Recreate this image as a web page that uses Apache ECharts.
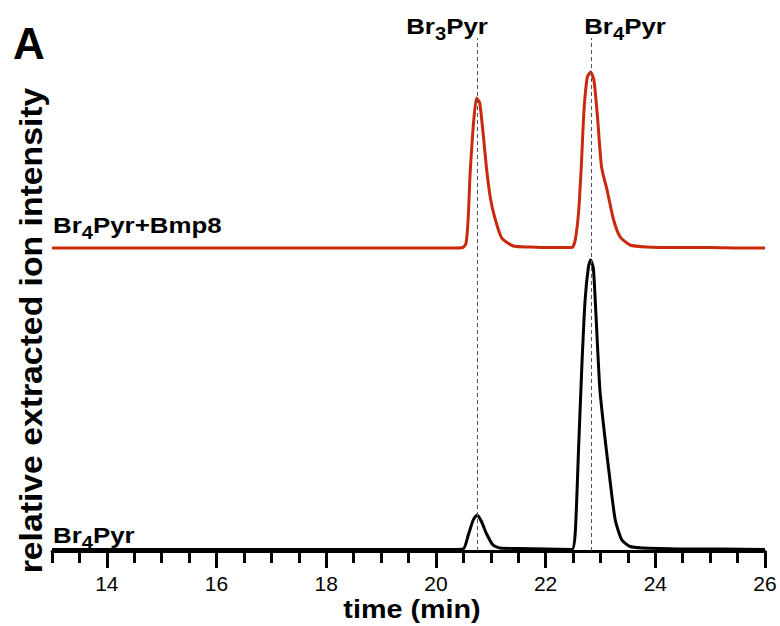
<!DOCTYPE html>
<html>
<head>
<meta charset="utf-8">
<script src="https://cdn.jsdelivr.net/npm/echarts@6/dist/echarts.min.js"></script>
<style>html,body{margin:0;padding:0;background:#fff}#c{width:780px;height:626px}</style>
</head>
<body>
<div id="c"></div>
<script>
const F = '"Liberation Sans", Arial, Helvetica, sans-serif';
const xMin = 13, xMax = 26;
const majorTicks = [14, 16, 18, 20, 22, 24, 26];
const minorInterval = 0.5;
// Br4Pyr + Bmp8 trace (red, stacked above)
const redT = [13, 16, 19, 20.3, 20.49, 20.55, 20.59, 20.62, 20.65, 20.69, 20.74, 20.77, 20.80, 20.86, 20.92, 20.99, 21.07, 21.2, 21.41, 21.71, 22.1, 22.48, 22.54, 22.60, 22.65, 22.70, 22.76, 22.82, 22.88, 22.94, 23.02, 23.12, 23.24, 23.36, 23.54, 23.84, 24.4, 25.02, 25.5, 26];
const redV = [60.6, 60.6, 60.6, 60.6, 60.7, 61.6, 66.8, 74.8, 80.2, 86.2, 90.6, 90.2, 89.6, 83.6, 76.8, 70.8, 66.8, 62.6, 61.0, 60.8, 60.7, 60.7, 62.2, 67.6, 76.8, 88.2, 94.8, 95.8, 94.2, 87.6, 76.8, 72.2, 66.2, 62.8, 61.2, 60.8, 60.7, 60.7, 60.6, 60.6];
// Br4Pyr trace (black)
const blackT = [13, 16, 19, 20.3, 20.50, 20.59, 20.68, 20.75, 20.83, 20.92, 21.04, 21.17, 21.5, 22.0, 22.48, 22.54, 22.60, 22.66, 22.72, 22.78, 22.82, 22.87, 22.92, 22.99, 23.08, 23.18, 23.27, 23.39, 23.54, 23.78, 24.08, 24.6, 25.2, 26];
const blackV = [0.3, 0.3, 0.3, 0.3, 0.4, 3.2, 6.2, 7.2, 5.9, 3.5, 1.2, 0.6, 0.5, 0.4, 0.3, 3.6, 20.2, 36.8, 50.2, 56.8, 58.2, 56.6, 46.8, 32.2, 22.8, 13.6, 6.2, 2.2, 0.9, 0.6, 0.5, 0.4, 0.4, 0.3];
const markerTimes = [20.75, 22.83];
const yMax = 102.6;

const chart = echarts.init(document.getElementById('c'), null, {renderer: 'svg'});
const pairs = (t, v) => t.map((x, i) => [x, v[i]]);
const RED = '#c92a0c';
const labStyle = (text, align) => ({
  text: text, align: align, verticalAlign: 'middle', fill: '#000',
  rich: {
    b: {fontSize: 22.5, fontWeight: 'bold', fontFamily: F, fill: '#000'},
    s: {fontSize: 17.5, fontWeight: 'bold', fontFamily: F, fill: '#000', padding: [14, 0, 0, 0]}
  }
});
chart.setOption({
  animation: false,
  grid: {left: 52, right: 15, top: 38, bottom: 75},
  xAxis: [{
    type: 'value', min: xMin, max: xMax,
    axisLine: {lineStyle: {color: '#000', width: 3}},
    axisTick: {customValues: majorTicks, length: 17, lineStyle: {color: '#000', width: 3}},
    axisLabel: {customValues: majorTicks, fontSize: 21, color: '#000', fontFamily: F, margin: 22},
    splitLine: {show: false}
  }, {
    type: 'value', min: xMin, max: xMax, interval: minorInterval, position: 'bottom',
    axisLine: {show: false},
    axisTick: {length: 12, lineStyle: {color: '#000', width: 3}},
    axisLabel: {show: false},
    splitLine: {show: false}
  }],
  yAxis: {type: 'value', min: 0, max: yMax, show: false},
  series: [{
    type: 'line', data: pairs(redT, redV), showSymbol: false, smooth: 0.2,
    lineStyle: {color: RED, width: 3, join: 'round'}, z: 3
  }, {
    type: 'line', data: pairs(blackT, blackV), showSymbol: false, smooth: 0.2,
    lineStyle: {color: '#000', width: 3, join: 'round'}, z: 3,
    markLine: {
      silent: true, symbol: ['none', 'none'], label: {show: false},
      lineStyle: {color: '#555', width: 1, type: [4, 3]},
      data: markerTimes.map(t => ({xAxis: t}))
    }
  }],
  graphic: [
    {type: 'text', x: 13, y: 43, style: {text: 'A', fontSize: 44, fontWeight: 'bold', fontFamily: F, fill: '#000', align: 'left', verticalAlign: 'middle'}},
    {type: 'text', x: 447, y: 26.5, scaleX: 1.15, style: labStyle('{b|Br}{s|3}{b|Pyr}', 'center')},
    {type: 'text', x: 625, y: 26.5, scaleX: 1.15, style: labStyle('{b|Br}{s|4}{b|Pyr}', 'center')},
    {type: 'text', x: 53, y: 225.5, scaleX: 1.15, style: labStyle('{b|Br}{s|4}{b|Pyr+Bmp8}', 'left')},
    {type: 'text', x: 53, y: 535.5, scaleX: 1.15, style: labStyle('{b|Br}{s|4}{b|Pyr}', 'left')},
    {type: 'text', x: 412, y: 610, scaleX: 1.15, style: {text: 'time (min)', fontSize: 25, fontWeight: 'bold', fontFamily: F, fill: '#000', align: 'center', verticalAlign: 'middle'}},
    {type: 'text', x: 30.5, y: 330.5, rotation: Math.PI / 2, scaleX: 1.055, style: {text: 'relative extracted ion intensity', fontSize: 32, fontWeight: 'bold', fontFamily: F, fill: '#000', align: 'center', verticalAlign: 'middle'}}
  ]
});
</script>
</body>
</html>
